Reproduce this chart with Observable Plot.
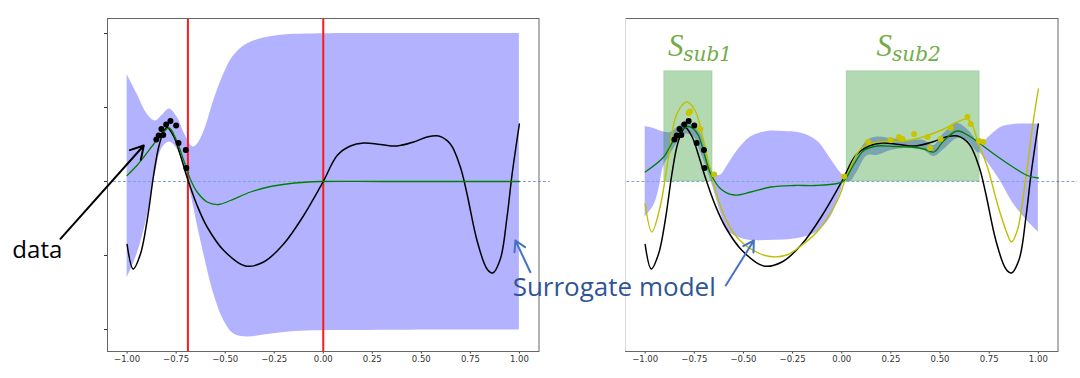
<!DOCTYPE html>
<html><head><meta charset="utf-8">
<script src="https://cdn.jsdelivr.net/npm/d3@7"></script>
<script src="https://cdn.jsdelivr.net/npm/@observablehq/plot@0.6"></script>
<style>
body{margin:0;background:#fff;}
#wrap{position:relative;width:1080px;height:378px;overflow:hidden;background:#fff;}
#left,#right{position:absolute;top:0;width:540px;height:378px;}
#left{left:0}#right{left:540px}
</style></head><body>
<div id="wrap"><div id="left"></div><div id="right"></div></div>
<script>
// ---------- tick values ----------
const xTicks = [-1, -0.75, -0.5, -0.25, 0, 0.25, 0.5, 0.75, 1];
const yTicks = [-2.96, -1.48, 0, 1.48, 2.96];

// ---------- true objective (black), same in both panels ----------
const trueX = [-1.0, -0.969, -0.932, -0.898, -0.864, -0.839, -0.815, -0.796, -0.762, -0.728, -0.694, -0.643, -0.592, -0.507, -0.397, -0.304, -0.202, -0.1, 0.0, 0.071, 0.138, 0.206, 0.291, 0.376, 0.461, 0.529, 0.589, 0.648, 0.699, 0.733, 0.784, 0.835, 0.864, 0.903, 0.937, 0.963, 1.0];
const trueY = [-1.26, -1.75, -1.45, -0.78, 0.15, 0.69, 0.98, 1.08, 0.90, 0.52, 0.08, -0.48, -0.91, -1.38, -1.69, -1.61, -1.25, -0.68, 0.0, 0.52, 0.71, 0.77, 0.74, 0.71, 0.79, 0.89, 0.91, 0.75, 0.29, -0.25, -1.18, -1.75, -1.83, -1.55, -0.71, 0.15, 1.15];

// ---------- observations (black dots) ----------
const obsX = [-0.851, -0.839, -0.816, -0.825, -0.801, -0.779, -0.750, -0.738, -0.701, -0.698];
const obsY = [0.84, 0.92, 0.93, 1.05, 1.14, 1.21, 1.12, 0.77, 0.63, 0.27];

// ---------- left panel: GP mean and band ----------
const meanLX = [-1.0, -0.95, -0.915, -0.864, -0.813, -0.785, -0.75, -0.711, -0.677, -0.643, -0.592, -0.533, -0.473, -0.371, -0.269, -0.167, -0.009, 0.3, 1.0];
const meanLY = [0.12, 0.32, 0.49, 0.75, 0.99, 1.07, 0.84, 0.42, 0.04, -0.21, -0.41, -0.46, -0.38, -0.21, -0.10, -0.04, 0.0, 0.0, 0.0];
const bandLX  = [-1.0, -0.949, -0.898, -0.856, -0.822, -0.784, -0.745, -0.703, -0.664, -0.643, -0.609, -0.558, -0.507, -0.456, -0.388, -0.303, -0.201, -0.082, 0.172, 0.6, 1.0];
const bandLHi = [2.14, 1.75, 1.35, 1.21, 1.32, 1.45, 1.29, 0.92, 0.69, 0.74, 0.99, 1.62, 2.15, 2.52, 2.75, 2.87, 2.93, 2.95, 2.96, 2.96, 2.96];
const bandLLo = [-1.93, -1.45, -0.71, 0.17, 0.66, 0.79, 0.65, 0.22, -0.45, -0.85, -1.45, -2.25, -2.78, -3.05, -3.11, -3.07, -3.02, -2.99, -2.98, -2.97, -2.97];
const redX = [-0.69, 0.0];

// ---------- right panel ----------
const bandRX  = [-1.0, -0.956, -0.93, -0.906, -0.87, -0.83, -0.79, -0.75, -0.72, -0.69, -0.666, -0.645, -0.615, -0.581, -0.53, -0.463, -0.38, -0.294, -0.21, -0.125, -0.056, -0.005, 0.012, 0.045, 0.080, 0.131, 0.181, 0.249, 0.334, 0.418, 0.469, 0.520, 0.588, 0.639, 0.690, 0.706, 0.757, 0.808, 0.874, 0.946, 1.0];
const bandRLo = [-0.71, -0.48, -0.15, 0.30, 0.55, 0.80, 0.95, 0.88, 0.60, 0.30, 0.02, -0.25, -0.64, -0.98, -1.11, -1.18, -1.18, -1.17, -1.13, -1.01, -0.71, -0.21, -0.02, 0.0, 0.20, 0.52, 0.52, 0.62, 0.66, 0.62, 0.50, 0.64, 0.86, 0.82, 0.58, 0.56, 0.30, 0.0, -0.45, -0.80, -1.01];
const bandRHi = [1.10, 1.06, 1.02, 0.99, 0.98, 1.10, 1.20, 1.10, 0.98, 0.62, 0.28, 0.13, 0.13, 0.32, 0.62, 0.89, 1.0, 1.0, 0.97, 0.81, 0.45, 0.17, 0.12, 0.30, 0.52, 0.82, 0.89, 0.86, 0.82, 0.82, 0.72, 0.96, 1.16, 1.04, 0.80, 0.74, 0.92, 1.08, 1.14, 1.15, 1.15];
const meanRX = [-1.0, -0.906, -0.856, -0.805, -0.784, -0.76, -0.729, -0.695, -0.666, -0.615, -0.548, -0.463, -0.361, -0.243, -0.132, -0.022, 0.012, 0.063, 0.113, 0.181, 0.266, 0.351, 0.418, 0.469, 0.520, 0.588, 0.656, 0.706, 0.774, 0.859, 0.944, 1.0];
const meanRY = [0.19, 0.49, 0.82, 1.06, 1.10, 1.07, 0.92, 0.49, 0.15, -0.15, -0.27, -0.21, -0.11, -0.08, -0.08, -0.04, 0.02, 0.35, 0.62, 0.71, 0.70, 0.69, 0.65, 0.59, 0.82, 1.01, 0.89, 0.75, 0.55, 0.32, 0.12, 0.07];
const yelX = [-1.0, -0.966, -0.924, -0.881, -0.839, -0.788, -0.746, -0.703, -0.661, -0.601, -0.534, -0.449, -0.365, -0.280, -0.195, -0.124, -0.022, 0.029, 0.097, 0.181, 0.266, 0.351, 0.436, 0.520, 0.588, 0.639, 0.665, 0.690, 0.741, 0.792, 0.842, 0.863, 0.893, 0.935, 0.970, 1.0];
const yelY = [-0.45, -1.01, -0.51, 0.49, 1.35, 1.59, 1.42, 0.82, 0.09, -0.65, -1.11, -1.38, -1.50, -1.47, -1.25, -1.0, -0.38, 0.15, 0.65, 0.79, 0.80, 0.83, 0.92, 1.05, 1.19, 1.25, 1.12, 0.82, 0.29, -0.45, -1.05, -1.21, -0.98, 0.02, 1.09, 1.85];
const yptX = [-0.779, -0.772, -0.72, -0.649, 0.012, 0.134, 0.249, 0.291, 0.309, 0.368, 0.436, 0.449, 0.503, 0.554, 0.639, 0.656, 0.698, 0.720];
const yptY = [1.37, 1.40, 1.05, 0.14, 0.10, 0.79, 0.83, 0.89, 0.85, 0.95, 0.89, 0.67, 0.85, 1.07, 1.29, 1.15, 0.81, 0.79];
const boxX1 = [-0.903, 0.025];
const boxX2 = [-0.657, 0.702];
const boxTop = [2.206, 2.206];

// ---------- annotations ----------
const subsetLabels = ["S", "S"];
const subsetSubs = ["sub1", "sub2"];
const subsetLabelX = [-0.884, 0.177];
const subsetSubX = [-0.806, 0.256];
const dataLabel = [{x: -1.585, y: -1.534, text: "data"}];
const dataArrow = [{x1: -1.340, y1: -1.146, x2: -0.915, y2: 0.72}];
const surrLabel = [{x: -1.674, y: -2.28, text: "Surrogate model"}];
const surrArrowL = [{x1: 1.056, y1: -1.814, x2: 0.980, y2: -1.18}];
const surrArrowR = [{x1: -0.590, y1: -2.08, x2: -0.447, y2: -1.18}];
const dashL = [-1.070, 1.158];
const dashR = [-1.093, 1.199];

// ---------- build rows ----------
const pts = (xs, ys) => xs.map((x, i) => ({x, y: ys[i]}));
const band = (xs, lo, hi) => xs.map((x, i) => ({x, lo: lo[i], hi: hi[i]}));
const trueRows = pts(trueX, trueY);
const obsRows = pts(obsX, obsY);
const boxes = boxX1.map((x1, i) => ({x1, x2: boxX2[i], top: boxTop[i]}));
const subsets = subsetLabels.map((s, i) => ({s, sub: subsetSubs[i], xs: subsetLabelX[i], xb: subsetSubX[i]}));

const yDomain = [-3.40, 3.26];
const base = (ml, mr) => ({
  width: 540, height: 378, marginTop: 18, marginBottom: 27, marginLeft: ml, marginRight: mr,
  style: {background: "transparent", overflow: "visible", fontFamily: "DejaVu Sans", fontSize: "8.5px", color: "#333"},
  x: {domain: [-1.1, 1.1], ticks: xTicks, tickFormat: d3.format(".2f"), tickSize: 2.5, tickPadding: 1.5, label: null}
});
const curve = "catmull-rom";

const left = Plot.plot({
  ...base(107, 1.5),
  y: {domain: yDomain, ticks: yTicks, tickFormat: () => "", tickSize: 3, label: null},
  marks: [
    Plot.areaY(band(bandLX, bandLLo, bandLHi), {x: "x", y1: "lo", y2: "hi", fill: "#0000ff", fillOpacity: 0.3, curve}),
    Plot.ruleX(redX, {stroke: "#ff1a1a", strokeWidth: 2}),
    Plot.ruleY([0], {x1: dashL[0], x2: dashL[1], stroke: "#7fa7d3", strokeDasharray: "3,2"}),
    Plot.line(trueRows, {x: "x", y: "y", stroke: "black", strokeWidth: 1.5, curve}),
    Plot.line(pts(meanLX, meanLY), {x: "x", y: "y", stroke: "#008000", strokeWidth: 1.3, curve}),
    Plot.dot(obsRows, {x: "x", y: "y", r: 3, fill: "black"}),
    Plot.frame({stroke: "#666"}),
    Plot.arrow(dataArrow, {x1: "x1", y1: "y1", x2: "x2", y2: "y2", stroke: "black", strokeWidth: 2, headLength: 11}),
    Plot.text(dataLabel, {x: "x", y: "y", text: "text", textAnchor: "start", lineAnchor: "bottom", fontFamily: "Open Sans", fontSize: 24, fill: "black"}),
    Plot.arrow(surrArrowL, {x1: "x1", y1: "y1", x2: "x2", y2: "y2", stroke: "#4472C4", strokeWidth: 2, headLength: 9})
  ]
});
document.getElementById("left").append(left);

const right = Plot.plot({
  ...base(85, 22.5),
  y: {domain: yDomain, axis: null},
  marks: [
    Plot.areaY(band(bandRX, bandRLo, bandRHi), {x: "x", y1: "lo", y2: "hi", fill: "#0000ff", fillOpacity: 0.3, curve}),
    Plot.rect(boxes, {x1: "x1", x2: "x2", y1: 0, y2: "top", fill: "#008000", fillOpacity: 0.3, stroke: "#008000", strokeOpacity: 0.15}),
    Plot.ruleY([0], {x1: dashR[0], x2: dashR[1], stroke: "#7fa7d3", strokeDasharray: "3,2"}),
    Plot.line(trueRows, {x: "x", y: "y", stroke: "black", strokeWidth: 1.5, curve}),
    Plot.line(pts(yelX, yelY), {x: "x", y: "y", stroke: "#bfbf00", strokeWidth: 1.4, curve}),
    Plot.line(pts(meanRX, meanRY), {x: "x", y: "y", stroke: "#008000", strokeWidth: 1.3, curve}),
    Plot.dot(obsRows, {x: "x", y: "y", r: 3, fill: "black"}),
    Plot.dot(pts(yptX, yptY), {x: "x", y: "y", r: 3, fill: "#c8c400"}),
    Plot.frame({stroke: "#666"}),
    Plot.ruleX([-1.1], {stroke: "#d8d8d8"}),
    Plot.text(subsets, {x: "xs", y: 2.52, text: "s", textAnchor: "start", lineAnchor: "bottom", fontFamily: "Liberation Serif", fontStyle: "italic", fontSize: 31, fill: "#70AD47"}),
    Plot.text(subsets, {x: "xb", y: 2.41, text: "sub", textAnchor: "start", lineAnchor: "bottom", fontFamily: "DejaVu Serif", fontStyle: "italic", fontSize: 20, fill: "#70AD47"}),
    Plot.arrow(surrArrowR, {x1: "x1", y1: "y1", x2: "x2", y2: "y2", stroke: "#4472C4", strokeWidth: 2, headLength: 9}),
    Plot.text(surrLabel, {x: "x", y: "y", text: "text", textAnchor: "start", lineAnchor: "bottom", fontFamily: "Open Sans", fontSize: 26, fill: "#2F5597"})
  ]
});
document.getElementById("right").append(right);
</script>
</body></html>
